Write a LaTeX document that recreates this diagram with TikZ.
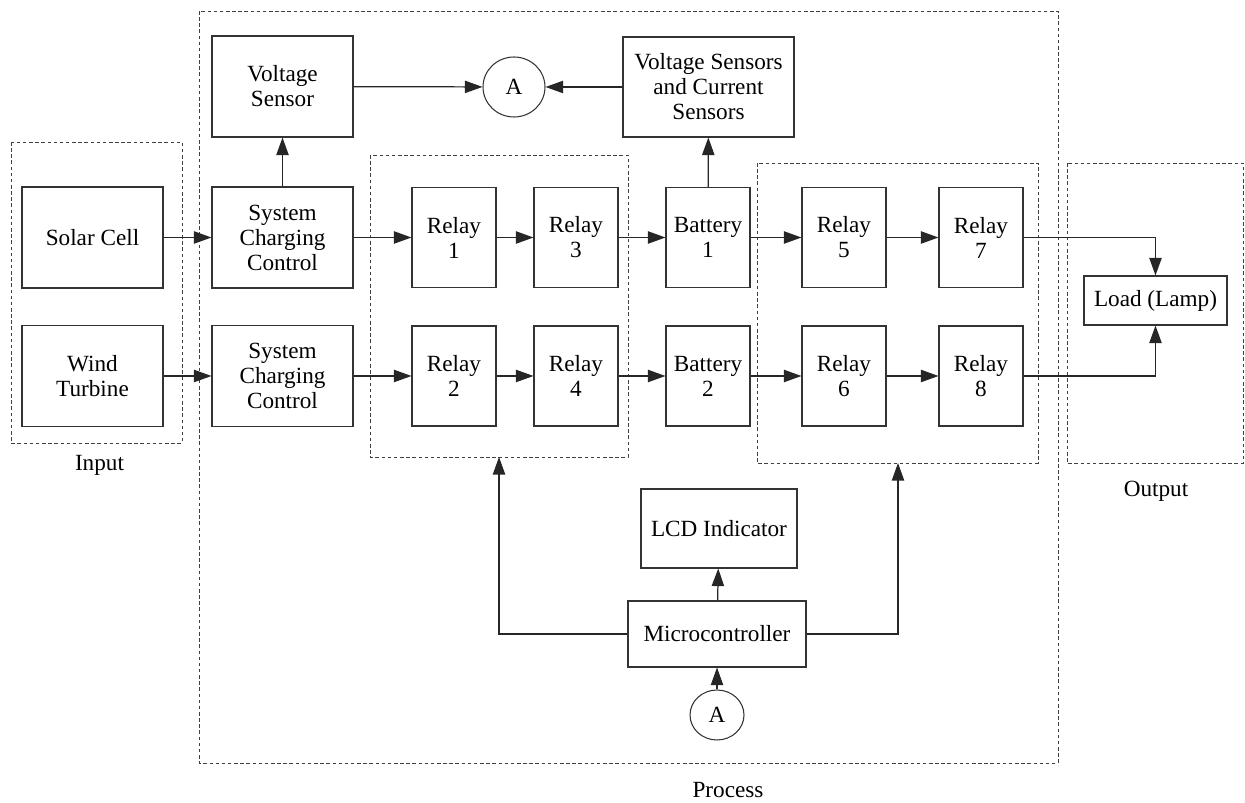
\documentclass[tikz,border=0pt]{standalone}
\usepackage{fontspec}
\setmainfont{Liberation Serif}
\usetikzlibrary{arrows.meta,shapes.geometric}
\begin{document}
\begin{tikzpicture}[x=0.02cm,y=-0.02cm,
  every node/.style={font=\fontsize{13.2}{14.2}\selectfont, align=center, inner sep=0pt},
  blk/.style={draw=black!80, line width=0.6pt, rectangle},
  bigbox/.style={blk, minimum width=2.82cm, minimum height=2.02cm},
  relbox/.style={blk, minimum width=1.68cm, minimum height=2.0cm},
  conn/.style={ellipse, draw=black!80, line width=0.6pt},
  grp/.style={draw=black!75, line width=0.5pt, dash pattern=on 2pt off 1.5pt},
  arr/.style={draw=black!85, line width=0.7pt, -{Triangle[length=10pt,width=7pt]}}]
\useasboundingbox (0,0) rectangle (1245,803);
% dashed groups
\draw[grp] (11,142) rectangle (182,443);
\draw[grp] (199,11) rectangle (1058,763);
\draw[grp] (370,155) rectangle (628,457);
\draw[grp] (757,163) rectangle (1038,463);
\draw[grp] (1067,163) rectangle (1243,463);
% nodes
\node[bigbox] (solar) at (92.5,237.5) {Solar Cell};
\node[bigbox] (wind) at (92.5,376) {Wind\\Turbine};
\node[bigbox] (scc1) at (282.5,237.5) {System\\Charging\\Control};
\node[bigbox] (scc2) at (282.5,376) {System\\Charging\\Control};
\node[bigbox] (vs) at (282.5,86.5) {Voltage\\Sensor};
\node[conn, minimum width=1.24cm, minimum height=1.2cm] (a1) at (514,87) {A};
\node[blk, minimum width=3.42cm, minimum height=2.0cm] (vscs) at (708.5,87) {Voltage Sensors\\and Current\\Sensors};
\node[relbox] (r1) at (454,237.5) {Relay\\1};
\node[relbox] (r3) at (576,237.5) {Relay\\3};
\node[relbox] (b1) at (708,237.5) {Battery\\1};
\node[relbox] (r5) at (844,237.5) {Relay\\5};
\node[relbox] (r7) at (981,237.5) {Relay\\7};
\node[relbox] (r2) at (454,376) {Relay\\2};
\node[relbox] (r4) at (576,376) {Relay\\4};
\node[relbox] (b2) at (708,376) {Battery\\2};
\node[relbox] (r6) at (844,376) {Relay\\6};
\node[relbox] (r8) at (981,376) {Relay\\8};
\node[blk, minimum width=2.86cm, minimum height=0.98cm] (load) at (1155.5,300.5) {Load (Lamp)};
\node[blk, minimum width=3.12cm, minimum height=1.58cm] (lcd) at (719,528.5) {LCD Indicator};
\node[blk, minimum width=3.56cm, minimum height=1.32cm] (mc) at (717,634) {Microcontroller};
\node[conn, minimum width=1.08cm, minimum height=1.0cm] (a2) at (717,715) {A};
\node[anchor=base] (lin) at (99.5,471) {Input};
\node[anchor=base] (lout) at (1156,497) {Output};
\node[anchor=base] (lproc) at (728,798) {Process};
\coordinate (g1b) at (499,457);
\coordinate (g2b) at (898,463);
% connectors
\draw[arr] (solar) -- (scc1);
\draw[arr] (wind) -- (scc2);
\draw[arr] (scc1) -- (r1);
\draw[arr] (r1) -- (r3);
\draw[arr] (r3) -- (b1);
\draw[arr] (b1) -- (r5);
\draw[arr] (r5) -- (r7);
\draw[arr] (scc2) -- (r2);
\draw[arr] (r2) -- (r4);
\draw[arr] (r4) -- (b2);
\draw[arr] (b2) -- (r6);
\draw[arr] (r6) -- (r8);
\draw[arr] (r7) -| (load);
\draw[arr] (r8) -| (load);
\draw[arr] (scc1) -- (vs);
\draw[arr] (vs) -- (a1);
\draw[arr] (vscs) -- (a1);
\draw[arr] (b1) -- (vscs);
\draw[arr] (mc.west) -| (g1b);
\draw[arr] (mc.east) -| (g2b);
\draw[arr] (mc) -- (lcd);
\draw[arr] (a2) -- (mc);
\end{tikzpicture}
\end{document}
